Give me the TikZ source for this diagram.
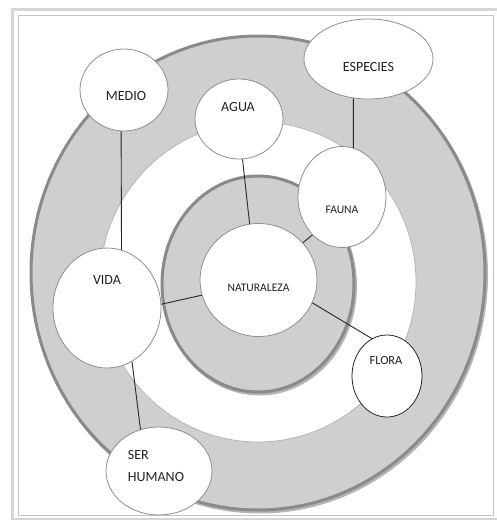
\documentclass[tikz,border=0pt]{standalone}
\usepackage{fontspec}
\setmainfont{Carlito}
\usetikzlibrary{shapes.geometric}
\definecolor{ringfill}{HTML}{CFCFCF}
\definecolor{ringdark}{HTML}{8A8A8A}
\definecolor{ringshadow}{HTML}{B4B4B4}
\definecolor{nodegray}{HTML}{8E8E8E}
\definecolor{txt}{HTML}{222222}
\definecolor{frameA}{HTML}{D6D6D6}
\definecolor{frameB}{HTML}{C4C4C4}
\begin{document}
\begin{tikzpicture}[x=1pt,y=-1pt,
  bub/.style={ellipse, draw=nodegray, fill=white, line width=0.8pt, inner sep=0pt},
  big/.style={font=\fontsize{14}{22}\selectfont, text=txt},
  small/.style={font=\fontsize{11.6}{14}\selectfont, text=txt},
  mid/.style={font=\fontsize{12.4}{15}\selectfont, text=txt},
  lnk/.style={draw=black!85, line width=0.9pt}]
\useasboundingbox (0,0) rectangle (497,520);
% frame
\draw[frameA, line width=3pt] (12.5,9.5) rectangle (499,519);
\draw[frameB, line width=1.6pt] (18.5,15.5) rectangle (493.5,515.5);
% outer ring
\draw[ringshadow, line width=3pt] (259.5,275) ellipse [x radius=227, y radius=237];
\draw[fill=ringfill, draw=ringdark, line width=3pt] (258,273) ellipse [x radius=227, y radius=237];
% white band
\draw[fill=white, draw=ringshadow, line width=0.8pt] (258,282) ellipse [x radius=158, y radius=160];
% inner ring
\draw[ringshadow, line width=3pt] (259.5,286) ellipse [x radius=96, y radius=108];
\draw[fill=ringfill, draw=ringdark, line width=3pt] (258,284) ellipse [x radius=96, y radius=108];
% nodes
\node[bub, minimum width=117pt, minimum height=113pt, label={[small, yshift=-8pt]center:NATURALEZA}] (nat) at (258.5,280) {};
\node[bub, minimum width=88pt, minimum height=80pt, label={[big, yshift=12pt, xshift=-1pt]center:AGUA}] (agua) at (239,119) {};
\node[bub, minimum width=88pt, minimum height=82pt, label={[big, yshift=-6pt, xshift=2pt]center:MEDIO}] (medio) at (124,90) {};
\node[bub, minimum width=129pt, minimum height=80pt, label={[big, yshift=-8pt]center:ESPECIES}] (esp) at (368.5,59) {};
\node[bub, minimum width=88pt, minimum height=101pt, label={[small, yshift=-13pt]center:FAUNA}] (fauna) at (342,197) {};
\node[bub, minimum width=108pt, minimum height=120pt, label={[big, yshift=28pt]center:VIDA}] (vida) at (107,308) {};
\node[bub, draw=black!85, minimum width=70pt, minimum height=82pt, label={[mid, yshift=15pt, xshift=-1pt]center:FLORA}] (flora) at (387,376) {};
\node[bub, minimum width=106pt, minimum height=88pt, label={[big, align=left, yshift=5pt, xshift=-3pt]center:SER\\HUMANO}] (ser) at (159,471) {};
% connectors
\draw[lnk] (medio.-94.3) -- (vida.76.7);
\draw[lnk] (agua.-85.8) -- (nat.99.5);
\draw[lnk] (esp.-111.2) -- (fauna.77.6);
\draw[lnk] (nat.40.6) -- (fauna.-128.3);
\draw[lnk] (vida.4.2) -- (nat.-165.8);
\draw[lnk] (nat.-23.8) -- (flora.112.5);
\draw[lnk] (vida.-65.1) -- (ser.114.4);
\end{tikzpicture}
\end{document}
